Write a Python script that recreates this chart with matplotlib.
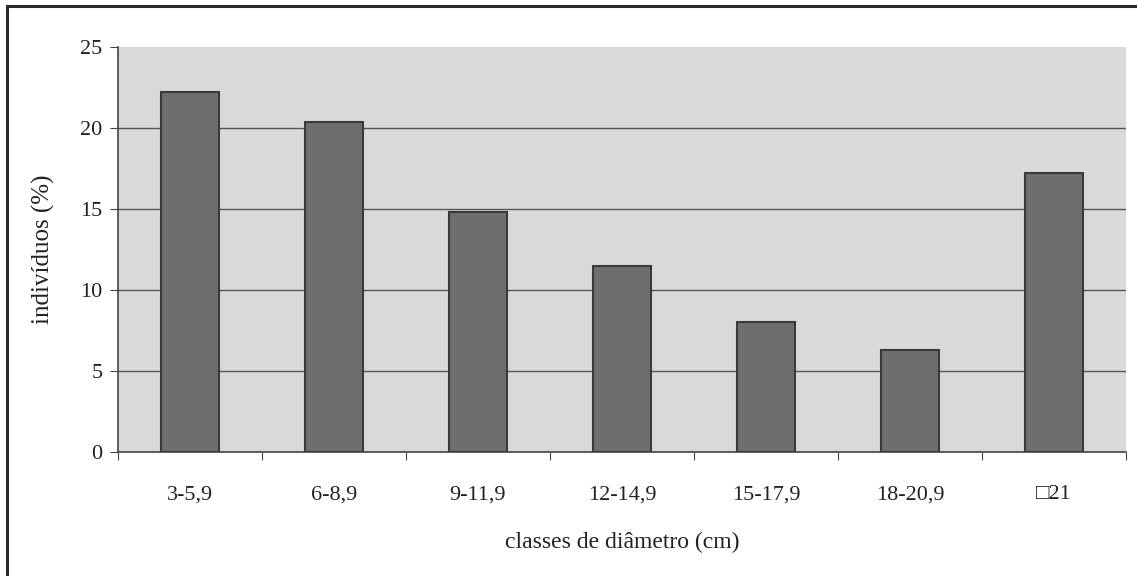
import numpy as np
import matplotlib.pyplot as plt
from matplotlib.patches import Rectangle

# data
classes = ['3-5,9', '6-8,9', '9-11,9', '12-14,9', '15-17,9', '18-20,9', '\u25a121']
percent = [22.2, 20.4, 14.8, 11.5, 8.0, 6.3, 17.2]
y_ticks = [0, 5, 10, 15, 20, 25]

plt.rcParams['font.family'] = ['Liberation Serif', 'DejaVu Sans']

fig = plt.figure(figsize=(11.37, 5.76), dpi=100)
ax = fig.add_axes([118 / 1137, 1 - 452 / 576, (1126 - 118) / 1137, (452 - 47) / 576])

# outer frame of the figure
fig.patches.append(Rectangle((7 / 1137, -0.05), 1.1, 1 - 6 / 576 + 0.05,
                             transform=fig.transFigure, fill=False,
                             edgecolor='#2a2a2a', linewidth=2.2))

x = np.arange(len(classes))
ax.set_facecolor('#d9d9d9')
ax.bar(x, percent, width=0.4, color='#6e6e6e', edgecolor='#3a3a3a', linewidth=1.5, zorder=3)

ax.set_xlim(-0.5, len(classes) - 0.5)
ax.set_ylim(0, 25)
ax.set_yticks(y_ticks)
# gridlines only inside the plot area (none on top edge)
for v in y_ticks[1:-1]:
    ax.axhline(v, color='#555555', linewidth=1.0, zorder=1)

# ticks between categories, labels centred under bars
ax.set_xticks(np.arange(len(classes) + 1) - 0.5)
ax.set_xticklabels([])
ax.set_xticks(x, minor=True)
ax.set_xticklabels(classes, minor=True)
ax.tick_params(axis='x', which='major', length=6, color='#444444')
ax.tick_params(axis='x', which='minor', length=0, pad=24, labelsize=16, labelcolor='#222222')
ax.tick_params(axis='y', length=6, pad=5, labelsize=16, color='#444444', labelcolor='#222222')

for s in ['top', 'right']:
    ax.spines[s].set_visible(False)
for s in ['left', 'bottom']:
    ax.spines[s].set_color('#444444')
    ax.spines[s].set_linewidth(1.2)

ax.set_xlabel('classes de diâmetro (cm)', fontsize=17, color='#222222', labelpad=20)
ax.set_ylabel('indivíduos (%)', fontsize=18, color='#222222', labelpad=18)

fig.savefig('out.png', dpi=100)
